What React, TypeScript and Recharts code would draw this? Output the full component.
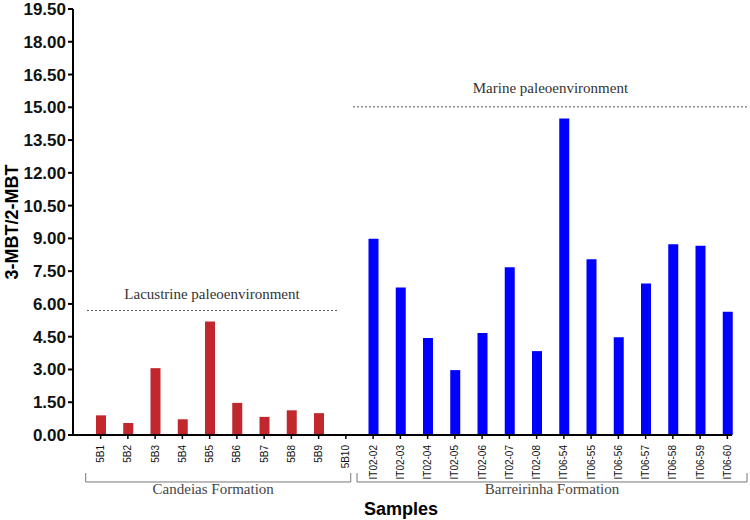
import React from 'react';
import { BarChart, Bar, XAxis, YAxis, ReferenceLine, Cell } from 'recharts';

const candeiasSamples = ['5B1', '5B2', '5B3', '5B4', '5B5', '5B6', '5B7', '5B8', '5B9', '5B10'];
const candeiasValues = [0.9, 0.55, 3.06, 0.72, 5.2, 1.47, 0.83, 1.13, 1.0, 0];
const barreirinhaSamples = [
  'IT02-02', 'IT02-03', 'IT02-04', 'IT02-05', 'IT02-06', 'IT02-07', 'IT02-08',
  'IT06-54', 'IT06-55', 'IT06-56', 'IT06-57', 'IT06-58', 'IT06-59', 'IT06-60',
];
const barreirinhaValues = [8.98, 6.75, 4.44, 2.97, 4.67, 7.68, 3.84, 14.49, 8.05, 4.47, 6.93, 8.73, 8.66, 5.64];
const yTicks = [0, 1.5, 3, 4.5, 6, 7.5, 9, 10.5, 12, 13.5, 15, 16.5, 18, 19.5];

const lacustrineLevel = 5.7;
const marineLevel = 15.02;

const RED = '#C1272D';
const BLUE = '#0000FF';

const data = [
  ...candeiasSamples.map((s, i) => ({ sample: s, value: candeiasValues[i], formation: 'Candeias' })),
  ...barreirinhaSamples.map((s, i) => ({ sample: s, value: barreirinhaValues[i], formation: 'Barreirinha' })),
];

const XTick = (props: any) => {
  const { x, y, payload } = props;
  return (
    <g transform={`translate(${x},${y + 4}) rotate(-90)`}>
      <text x={0} y={0} dy="0.35em" textAnchor="end" fontSize={10} fontFamily="Arial, 'Liberation Sans', sans-serif" fill="#111">
        {payload.value}
      </text>
    </g>
  );
};

const serif = "'Liberation Serif', 'Times New Roman', serif";
const sans = "Arial, 'Liberation Sans', sans-serif";

export default function App() {
  return (
    <div style={{ position: 'absolute', left: 0, top: 0, width: 750, height: 520, background: '#fff' }}>
      <BarChart width={750} height={520} data={data} margin={{ top: 9, right: 9, bottom: 0, left: 0 }} barCategoryGap={0}>
        <XAxis
          dataKey="sample"
          type="category"
          interval={0}
          height={85}
          padding={{ left: 14, right: 0 }}
          axisLine={false}
          tickLine={{ stroke: '#000', strokeWidth: 1.5 }}
          tickSize={4}
          tick={<XTick />}
          label={{ value: 'Samples', position: 'insideBottom', offset: 5, dx: -6, style: { fontFamily: sans, fontWeight: 700, fontSize: 18, fill: '#000' } }}
        />
        {/* hidden index axis: category index i maps to the centre of band i */}
        <XAxis xAxisId="n" type="number" domain={[0, 23]} allowDataOverflow hide padding={{ left: 27.6, right: 13.6 }} />
        <YAxis
          width={73}
          domain={[0, 19.5]}
          ticks={yTicks}
          interval={0}
          tickFormatter={(v: number) => v.toFixed(2)}
          axisLine={{ stroke: '#000', strokeWidth: 2 }}
          tickLine={{ stroke: '#000', strokeWidth: 2 }}
          tickSize={5}
          tick={{ fontFamily: sans, fontWeight: 700, fontSize: 17, fill: '#111' }}
          allowDataOverflow
          label={{ value: '3-MBT/2-MBT', angle: -90, position: 'insideLeft', offset: 12, style: { textAnchor: 'middle', fontFamily: sans, fontWeight: 700, fontSize: 18, fill: '#000' } }}
        />
        <Bar dataKey="value" barSize={10} isAnimationActive={false}>
          {data.map((d, i) => (
            <Cell key={i} fill={d.formation === 'Candeias' ? RED : BLUE} />
          ))}
        </Bar>
        {/* x axis line */}
        <ReferenceLine xAxisId="n" ifOverflow="visible" segment={[{ x: -1.013, y: 0 }, { x: 23.17, y: 0 }]} stroke="#000" strokeWidth={2} />
        {/* environment lines */}
        <ReferenceLine
          xAxisId="n"
          ifOverflow="visible"
          segment={[{ x: -0.5, y: lacustrineLevel }, { x: 8.675, y: lacustrineLevel }]}
          stroke="#555"
          strokeDasharray="2 2"
          label={{ value: 'Lacustrine paleoenvironment', position: 'top', offset: 11, style: { fontFamily: serif, fontSize: 15, fill: '#333' } }}
        />
        <ReferenceLine
          xAxisId="n"
          ifOverflow="visible"
          segment={[{ x: 9.262, y: marineLevel }, { x: 23.75, y: marineLevel }]}
          stroke="#555"
          strokeDasharray="2 2"
          label={{ value: 'Marine paleoenvironment', position: 'top', offset: 14, style: { fontFamily: serif, fontSize: 15, fill: '#333' } }}
        />
        {/* formation brackets */}
        <ReferenceLine
          xAxisId="n"
          ifOverflow="visible"
          segment={[{ x: -0.547, y: -2.15 }, { x: 9.178, y: -2.15 }]}
          stroke="#777"
          label={{ value: 'Candeias Formation', position: 'bottom', offset: 1, dx: -5, style: { fontFamily: serif, fontSize: 15, fill: '#444' } }}
        />
        <ReferenceLine xAxisId="n" ifOverflow="visible" segment={[{ x: -0.547, y: -2.15 }, { x: -0.547, y: -1.74 }]} stroke="#777" />
        <ReferenceLine xAxisId="n" ifOverflow="visible" segment={[{ x: 9.178, y: -2.15 }, { x: 9.178, y: -1.74 }]} stroke="#777" />
        <ReferenceLine
          xAxisId="n"
          ifOverflow="visible"
          segment={[{ x: 9.409, y: -2.15 }, { x: 23.72, y: -2.15 }]}
          stroke="#777"
          label={{ value: 'Barreirinha Formation', position: 'bottom', offset: 1, style: { fontFamily: serif, fontSize: 15, fill: '#444' } }}
        />
        <ReferenceLine xAxisId="n" ifOverflow="visible" segment={[{ x: 9.409, y: -2.15 }, { x: 9.409, y: -1.74 }]} stroke="#777" />
        <ReferenceLine xAxisId="n" ifOverflow="visible" segment={[{ x: 23.72, y: -2.15 }, { x: 23.72, y: -1.74 }]} stroke="#777" />
      </BarChart>
    </div>
  );
}
